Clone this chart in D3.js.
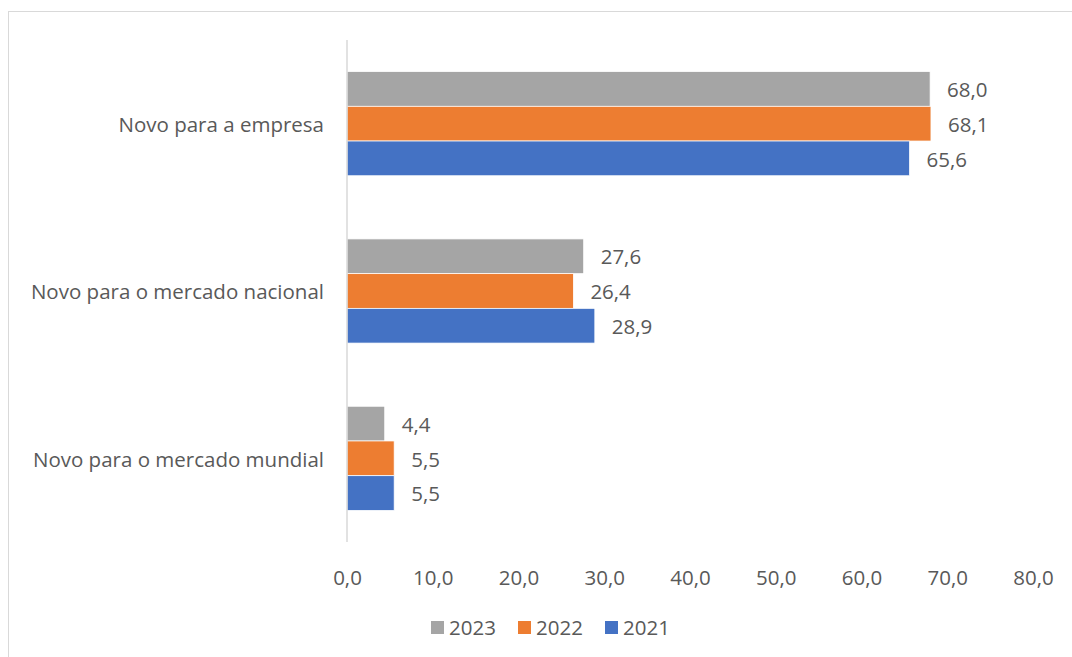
<!DOCTYPE html>
<html>
<head>
<meta charset="utf-8">
<script src="https://cdn.jsdelivr.net/npm/d3@7"></script>
<style>
  html, body { margin: 0; padding: 0; background: #fff; }
  svg { display: block; font-family: "Open Sans", sans-serif; }
</style>
</head>
<body>
<svg id="chart" width="1072" height="657"></svg>
<script>
// Categories (top to bottom) and series values
const categories = ["Novo para a empresa", "Novo para o mercado nacional", "Novo para o mercado mundial"];
const seriesNames = ["2023", "2022", "2021"];
const values2023 = [68.0, 27.6, 4.4];
const values2022 = [68.1, 26.4, 5.5];
const values2021 = [65.6, 28.9, 5.5];
const xTicks = [0, 10, 20, 30, 40, 50, 60, 70, 80];
const colors = ["#A5A5A5", "#ED7D31", "#4472C4"];

const seriesValues = [values2023, values2022, values2021];
const fmt = v => v.toFixed(1).replace(".", ",");
const textColor = "#595959";
const fontSize = "20.5px";
const midDy = "0.4em";

const svg = d3.select("#chart");

// chart frame
svg.append("rect")
  .attr("x", 8.5).attr("y", 11.5)
  .attr("width", 1080).attr("height", 660)
  .attr("fill", "none").attr("stroke", "#D9D9D9").attr("stroke-width", 1);

const plot = { left: 347, right: 1033, top: 40, bottom: 542 };

const x = d3.scaleLinear().domain([0, 80]).range([plot.left, plot.right]);
const y0 = d3.scaleBand().domain(categories).range([plot.top, plot.bottom]).paddingInner(0).paddingOuter(0);
const y1 = d3.scaleBand().domain(seriesNames).range([0, y0.bandwidth()]).paddingInner(0).paddingOuter(0.91);

// bars
const groups = svg.append("g").selectAll("g")
  .data(categories)
  .join("g")
  .attr("transform", c => `translate(0,${y0(c)})`);

groups.each(function(c, ci) {
  const g = d3.select(this);
  seriesNames.forEach((s, si) => {
    const v = seriesValues[si][ci];
    g.append("rect")
      .attr("x", x(0))
      .attr("y", y1(s))
      .attr("width", x(v) - x(0))
      .attr("height", y1.bandwidth())
      .attr("fill", colors[si])
      .attr("stroke", "#fff").attr("stroke-width", 0.75);
    g.append("text")
      .attr("x", x(v) + 17)
      .attr("y", y1(s) + y1.bandwidth() / 2)
      .attr("dy", midDy)
      .attr("fill", textColor)
      .style("font-size", fontSize)
      .text(fmt(v));
  });
});

// vertical category axis line
svg.append("line")
  .attr("x1", x(0)).attr("x2", x(0))
  .attr("y1", plot.top).attr("y2", plot.bottom)
  .attr("stroke", "#D9D9D9").attr("stroke-width", 1.5);

// category labels
svg.append("g").selectAll("text")
  .data(categories)
  .join("text")
  .attr("x", 324)
  .attr("y", c => y0(c) + y0.bandwidth() / 2)
  .attr("dy", midDy)
  .attr("text-anchor", "end")
  .attr("fill", textColor)
  .style("font-size", fontSize)
  .text(c => c);

// value axis tick labels
const xAxis = d3.axisBottom(x).tickValues(xTicks).tickSize(0).tickPadding(0).tickFormat(fmt);
const ax = svg.append("g").attr("transform", `translate(0,${577})`).call(xAxis);
ax.select(".domain").remove();
ax.selectAll("text")
  .attr("y", 0).attr("dy", midDy)
  .attr("fill", textColor)
  .style("font-size", fontSize)
  .style("font-family", "'Open Sans', sans-serif");

// legend
const legendItems = [
  { name: "2023", x: 431 },
  { name: "2022", x: 518 },
  { name: "2021", x: 605 }
];
const leg = svg.append("g");
legendItems.forEach((d, i) => {
  leg.append("rect")
    .attr("x", d.x).attr("y", 621)
    .attr("width", 13).attr("height", 13)
    .attr("fill", colors[i]);
  leg.append("text")
    .attr("x", d.x + 18).attr("y", 627)
    .attr("dy", midDy)
    .attr("fill", textColor)
    .style("font-size", fontSize)
    .text(d.name);
});
</script>
</body>
</html>
